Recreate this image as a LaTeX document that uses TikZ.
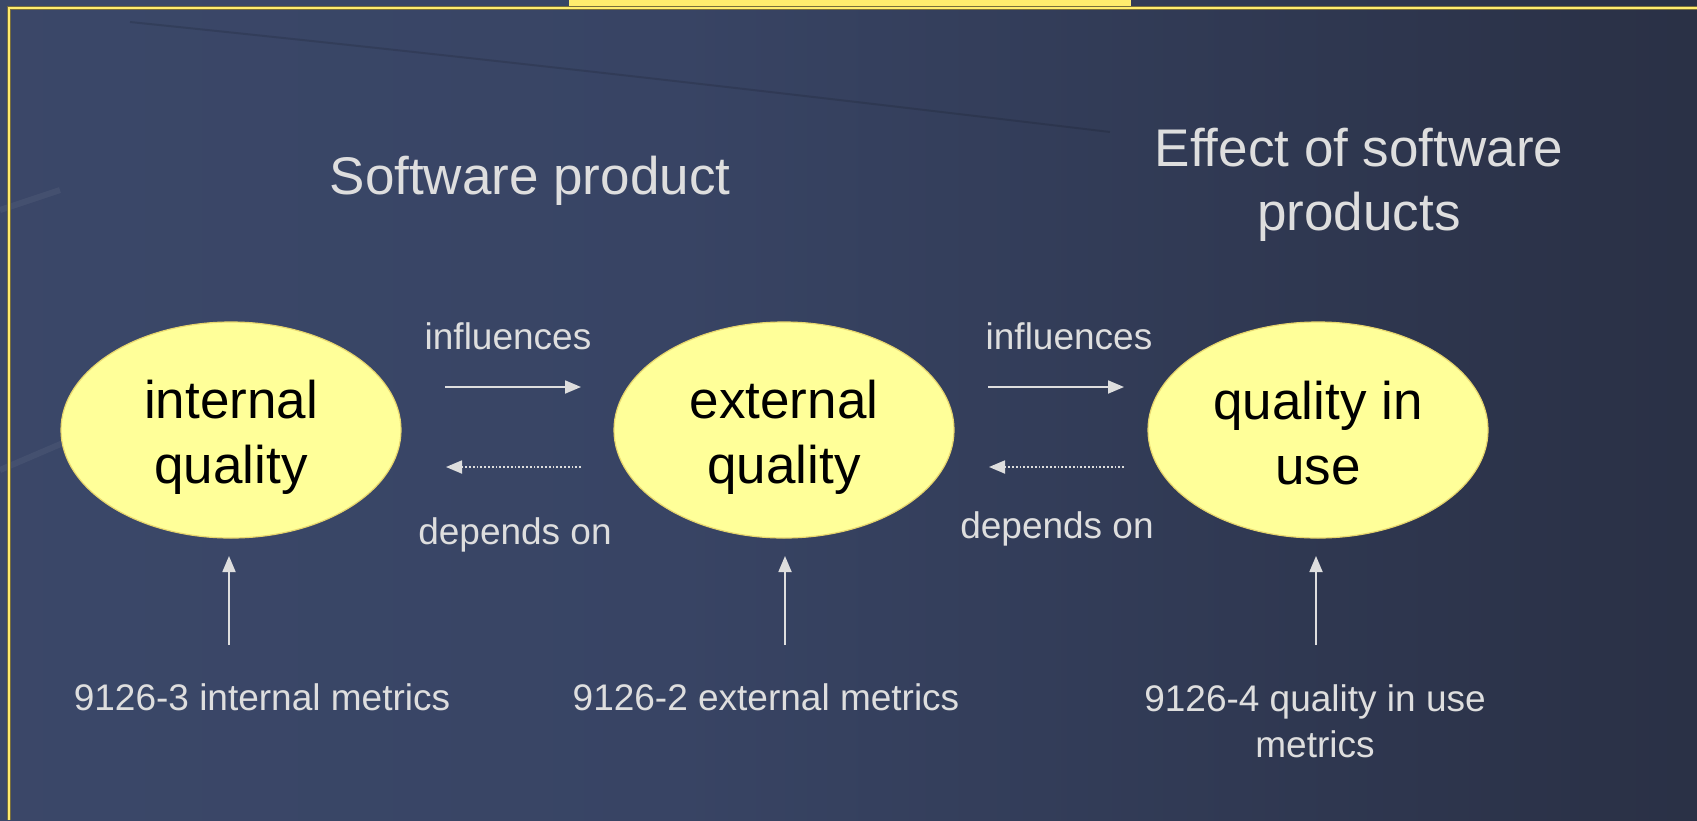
\documentclass[tikz,border=0pt]{standalone}
\usepackage{fontspec}
\setmainfont{Liberation Sans}
\usetikzlibrary{shapes.geometric,arrows.meta}
\definecolor{bgA}{RGB}{62,76,110}
\definecolor{bgB}{RGB}{56,68,100}
\definecolor{bgC}{RGB}{43,50,72}
\definecolor{bgD}{RGB}{34,38,52}
\definecolor{frameY}{RGB}{255,236,110}
\definecolor{frameO}{RGB}{120,110,60}
\definecolor{ellFill}{RGB}{255,255,153}
\definecolor{ellLine}{RGB}{232,215,110}
\definecolor{txt}{RGB}{222,222,222}
\pgfdeclarehorizontalshading{bgshade}{100bp}{color(0bp)=(bgA); color(45bp)=(bgB); color(72bp)=(bgC); color(100bp)=(bgD)}
\newcommand{\lift}[1]{\rule{0pt}{#1}}
\tikzset{
  title/.style={text=txt, inner sep=0pt, align=center, font=\fontsize{53pt}{64pt}\selectfont},
  lbl/.style={text=txt, inner sep=0pt, align=center, font=\fontsize{37pt}{46pt}\selectfont},
  qual/.style={ellipse, draw=ellLine, line width=1.2pt, fill=ellFill, minimum width=340pt, minimum height=216pt, inner sep=0pt, align=center, text=black, font=\fontsize{53pt}{65pt}\selectfont},
  infarrow/.style={draw=txt, line width=1.8pt, -{Triangle[length=16pt,width=13pt]}},
  deparrow/.style={draw=txt, line width=1.8pt, dotted, -{Triangle[length=16pt,width=13pt]}},
}
\begin{document}
\begin{tikzpicture}[x=1pt,y=-1pt]
\useasboundingbox (0,0) rectangle (1697,820);
\shade[shading=bgshade] (0,0) rectangle (1697,820);
% faint texture scratch
\draw[black, opacity=0.12, line width=2pt] (130,22) .. controls (500,60) and (800,95) .. (1110,132);
\draw[white, opacity=0.05, line width=6pt] (0,210) -- (60,190);
\draw[white, opacity=0.05, line width=6pt] (0,470) -- (70,440);
% frame
\fill[frameY] (569,0) rectangle (1131,7);
\draw[frameO, line width=4pt] (9,820) -- (9,8) -- (1697,8);
\draw[frameY, line width=2pt] (9,820) -- (9,8) -- (1697,8);
% titles
\node[title] (sp) at (530,181) {Software product};
\node[title] (eff) at (1359,185) {Effect of software\\products};
% ellipses
\node[qual] (iq) at (231,430) {\lift{53pt}internal\\quality};
\node[qual] (eq) at (784,430) {\lift{53pt}external\\quality};
\node[qual] (qu) at (1318,430) {\lift{44pt}quality in\\use};
% labels
\node[lbl] (inf1) at (508,336) {influences};
\node[lbl] (dep1) at (515,535) {depends on};
\node[lbl] (inf2) at (1069,336) {influences};
\node[lbl] (dep2) at (1057,529) {depends on};
\node[lbl] (m1) at (262,697) {9126-3 internal metrics};
\node[lbl] (m2) at (766,697) {9126-2 external metrics};
\node[lbl] (m3) at (1315,721) {9126-4 quality in use\\metrics};
% arrow end points
\coordinate (a1s) at (445,387); \coordinate (a1e) at (581,387);
\coordinate (d1s) at (581,467); \coordinate (d1e) at (446,467);
\coordinate (a2s) at (988,387); \coordinate (a2e) at (1124,387);
\coordinate (d2s) at (1124,467); \coordinate (d2e) at (989,467);
\coordinate (v1s) at (229,645); \coordinate (v1e) at (229,556);
\coordinate (v2s) at (785,645); \coordinate (v2e) at (785,556);
\coordinate (v3s) at (1316,645); \coordinate (v3e) at (1316,556);
\draw[infarrow] (a1s) -- (a1e);
\draw[deparrow] (d1s) -- (d1e);
\draw[infarrow] (a2s) -- (a2e);
\draw[deparrow] (d2s) -- (d2e);
\draw[infarrow] (v1s) -- (v1e);
\draw[infarrow] (v2s) -- (v2e);
\draw[infarrow] (v3s) -- (v3e);
\end{tikzpicture}
\end{document}
